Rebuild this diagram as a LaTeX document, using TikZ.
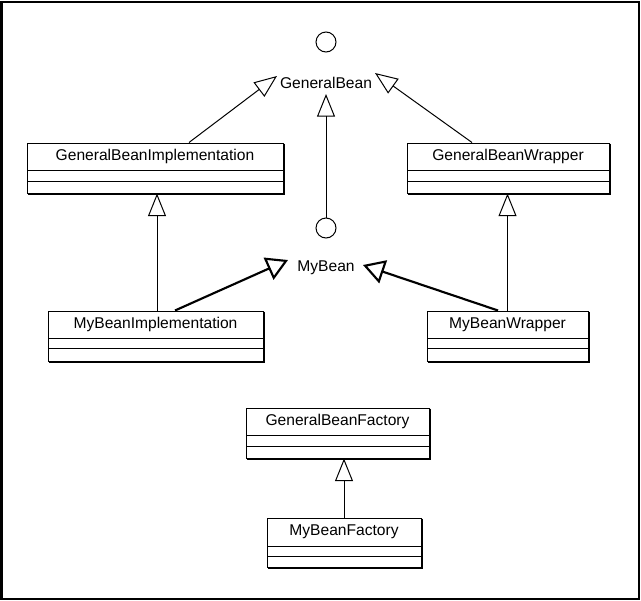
\documentclass[tikz,border=0pt]{standalone}
\usepackage{fontspec}
\setmainfont{Liberation Sans}
\usetikzlibrary{arrows.meta,calc,fit}

\tikzset{
 lbl/.style={font=\fontsize{11.7}{14}\selectfont, inner sep=0pt},
 cls/.style={draw, line width=0.75pt, inner sep=0pt},
 inh/.style={line width=0.75pt, -{Triangle[open, length=17pt, width=13.5pt]}},
 inhthick/.style={line width=1.6pt, -{Triangle[open, length=16pt, width=18pt]}},
 iface/.style={circle, draw, line width=0.75pt, minimum size=15pt, inner sep=0pt},
 thin/.style={line width=0.75pt},
}

\newcommand{\umlclass}[8]{%
 \node[cls, fit={(#2,#3) (#4,#7)}] (#1) {};
 \node[lbl] (#1-name) at ({(#2+#4)/2},{(#3+#5)/2}) {#8};
 \draw[thin] (#2,#5) -- (#4,#5) (#2,#6) -- (#4,#6);
 \draw[thin] ($(#1.north east)+(1,1)$) -- ($(#1.south east)+(1,1)$) -- ($(#1.south west)+(1,1)$);
}

\begin{document}
\begin{tikzpicture}[x=0.75pt, y=-0.75pt]
\useasboundingbox (0,0) rectangle (641,600);
\draw[line width=1.5pt] (1.5,1.5) rectangle (639,598.5);

% interfaces
\node[iface] (gbc) at (326,42) {};
\node[lbl] (gb) at (326,83) {GeneralBean};
\node[iface] (mbc) at (326,228) {};
\node[lbl] (mb) at (326,268) {MyBean};

% classes
\umlclass{gbi}{27}{143}{283}{170}{181}{193}{GeneralBeanImplementation}
\umlclass{gbw}{407}{143}{609}{170}{181}{193}{GeneralBeanWrapper}
\umlclass{mbi}{48}{311}{263}{338}{348}{361}{MyBeanImplementation}
\umlclass{mbw}{427}{311}{588}{338}{348}{361}{MyBeanWrapper}
\umlclass{gbf}{246}{408}{429}{435}{446}{458}{GeneralBeanFactory}
\umlclass{mbf}{267}{518}{421}{546}{556}{567}{MyBeanFactory}

% tips
\coordinate (gbL) at (277,76);
\coordinate (gbR) at (375,73);
\coordinate (gbB) at (326,94);
\coordinate (mbL) at (288,260);
\coordinate (mbR) at (363,265);

% connectors
\draw[inh] ($(gbi.north)+(34,0)$) -- (gbL);
\draw[inh] ($(gbw.north)+(-36,0)$) -- (gbR);
\draw[inh] (mbc.north) -- (gbB);
\draw[inh] ($(mbi.north)+(1.5,0)$) -- ($(gbi.south)+(2,0)$);
\draw[inh] (mbw.north) -- (mbw.north |- gbw.south);
\draw[inhthick] ($(mbi.north)+(19.5,0)$) -- (mbL);
\draw[inhthick] ($(mbw.north)+(-9.5,0)$) -- (mbR);
\draw[inh] (mbf.north) -- (mbf.north |- gbf.south);
\end{tikzpicture}
\end{document}
